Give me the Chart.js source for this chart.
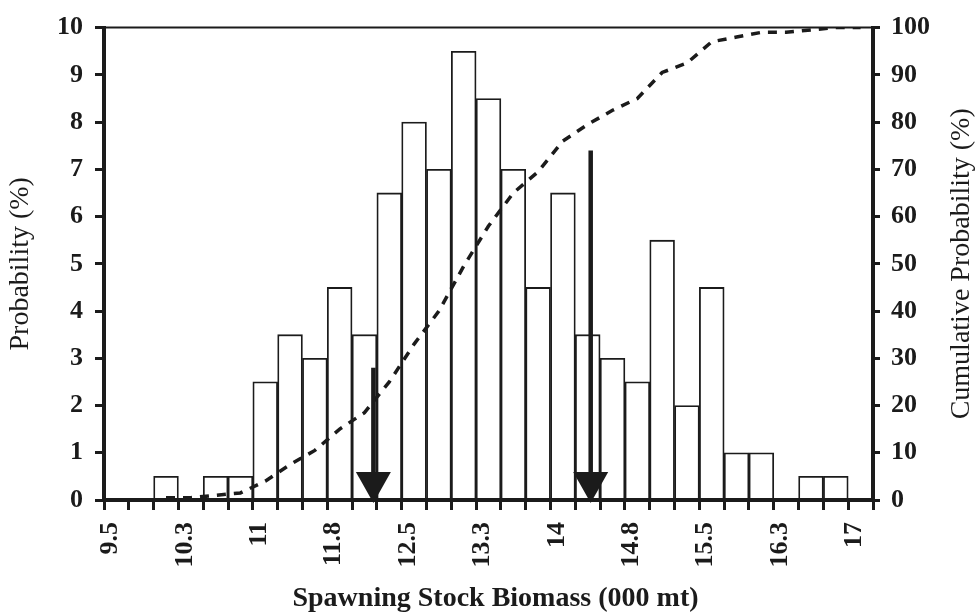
<!DOCTYPE html>
<html>
<head>
<meta charset="utf-8">
<title>Spawning Stock Biomass</title>
<script src="https://cdn.jsdelivr.net/npm/chart.js@4.4.1/dist/chart.umd.min.js"></script>
<style>
  html, body { margin: 0; padding: 0; background: #ffffff; }
  #wrap { width: 980px; height: 615px; position: relative; }
</style>
</head>
<body>
<div id="wrap"><canvas id="c"></canvas></div>
<script>
// Histogram classes of spawning stock biomass (000 mt), 0.25 wide
const categories = [9.5, 9.75, 10, 10.25, 10.5, 10.75, 11, 11.25, 11.5, 11.75,
                    12, 12.25, 12.5, 12.75, 13, 13.25, 13.5, 13.75, 14, 14.25,
                    14.5, 14.75, 15, 15.25, 15.5, 15.75, 16, 16.25, 16.5, 16.75, 17];
// Labels shown under every third class
const tickLabels = ['9.5', '10.3', '11', '11.8', '12.5', '13.3', '14', '14.8', '15.5', '16.3', '17'];
// Probability (%) of each class
const probability = [null, null, 0.5, null, 0.5, 0.5, 2.5, 3.5, 3.0, 4.5,
                     3.5, 6.5, 8.0, 7.0, 9.5, 8.5, 7.0, 4.5, 6.5, 3.5,
                     3.0, 2.5, 5.5, 2.0, 4.5, 1.0, 1.0, null, 0.5, 0.5, null];
// Cumulative probability (%)
const cumulative = [null, null, 0.5, 0.5, 1.0, 1.5, 4.0, 7.5, 10.5, 15.0,
                    18.5, 25.0, 33.0, 40.0, 49.5, 58.0, 65.0, 69.5, 76.0, 79.5,
                    82.5, 85.0, 90.5, 92.5, 97.0, 98.0, 99.0, 99.0, 99.5, 100, 100];
// Marker arrows: biomass position and height of the shaft top (probability %)
const arrowSSB = [12.09, 14.28];
const arrowTop = [2.8, 7.4];

const ink = '#1b1b1b';
const serif = "'Liberation Serif', 'DejaVu Serif', serif";
const classWidth = categories[1] - categories[0];

const decorations = {
  id: 'decorations',
  afterDatasetsDraw(chart) {
    const { ctx, chartArea, scales } = chart;
    ctx.save();
    ctx.strokeStyle = ink;
    // thin frame along the top of the plot
    ctx.lineWidth = 2;
    ctx.beginPath();
    ctx.moveTo(chartArea.left, chartArea.top);
    ctx.lineTo(chartArea.right, chartArea.top);
    ctx.stroke();
    // restate the baseline so the bar fills do not thin it
    const y0 = scales.y.getPixelForValue(0);
    ctx.lineWidth = 4;
    ctx.beginPath();
    ctx.moveTo(chartArea.left - 2, y0);
    ctx.lineTo(chartArea.right + 2, y0);
    ctx.stroke();

    // downward arrows
    ctx.fillStyle = ink;
    arrowSSB.forEach((v, i) => {
      const x = scales.x.getPixelForValue((v - categories[0]) / classWidth);
      const yTop = scales.y.getPixelForValue(arrowTop[i]);
      const yTip = y0 + 3;
      const headH = 31, headW = 35;
      ctx.lineWidth = 4.5;
      ctx.beginPath();
      ctx.moveTo(x, yTop);
      ctx.lineTo(x, yTip - headH + 2);
      ctx.stroke();
      ctx.beginPath();
      ctx.moveTo(x - headW / 2, yTip - headH);
      ctx.lineTo(x + headW / 2, yTip - headH);
      ctx.lineTo(x, yTip);
      ctx.closePath();
      ctx.fill();
    });
    ctx.restore();
  },
  afterDraw(chart) {
    const { ctx, chartArea, scales } = chart;
    ctx.save();
    ctx.fillStyle = ink;
    ctx.textAlign = 'center';
    ctx.textBaseline = 'middle';
    // x-axis title
    ctx.font = 'bold 28px ' + serif;
    ctx.fillText('Spawning Stock Biomass (000 mt)', (chartArea.left + chartArea.right) / 2 + 7, scales.x.bottom - 16);
    // right-axis title, reading bottom to top
    ctx.font = '28px ' + serif;
    ctx.translate(scales.y2.right - 18, (chartArea.top + chartArea.bottom) / 2);
    ctx.rotate(-Math.PI / 2);
    ctx.fillText('Cumulative Probability (%)', 0, 0);
    ctx.restore();
  }
};

new Chart(document.getElementById('c'), {
  type: 'bar',
  data: {
    labels: categories.map(String),
    datasets: [
      {
        type: 'line',
        label: 'Cumulative Probability (%)',
        data: cumulative,
        yAxisID: 'y2',
        borderColor: ink,
        borderWidth: 3.5,
        borderDash: [9, 8],
        pointRadius: 0,
        tension: 0,
        fill: false,
        order: 0
      },
      {
        type: 'bar',
        label: 'Probability (%)',
        data: probability,
        yAxisID: 'y',
        backgroundColor: '#ffffff',
        borderColor: ink,
        borderWidth: (c) => (c.raw ? 1.8 : 0),
        borderSkipped: 'bottom',
        barPercentage: 1,
        categoryPercentage: 1,
        order: 1
      }
    ]
  },
  options: {
    responsive: true,
    maintainAspectRatio: false,
    animation: false,
    devicePixelRatio: 1,
    layout: { padding: { top: 25, left: 0, right: 0, bottom: 0 } },
    plugins: {
      legend: { display: false },
      tooltip: { enabled: false },
      title: { display: false }
    },
    scales: {
      x: {
        type: 'category',
        offset: true,
        afterFit(scale) { scale.height = 115; },
        grid: {
          offset: true,
          drawOnChartArea: false,
          drawTicks: true,
          tickLength: 10,
          tickWidth: 3,
          color: ink
        },
        border: { display: true, color: ink, width: 4 },
        ticks: {
          autoSkip: false,
          minRotation: 90,
          maxRotation: 90,
          padding: 12,
          labelOffset: -6,
          color: ink,
          font: { family: serif, size: 26, weight: 'bold' },
          callback: (value, index) => (index % 3 === 0 ? tickLabels[index / 3] : '')
        }
      },
      y: {
        position: 'left',
        min: 0,
        max: 10,
        afterFit(scale) { scale.width = 104; },
        grid: {
          drawOnChartArea: false,
          tickLength: 9,
          tickWidth: 3,
          color: ink
        },
        border: { display: true, color: ink, width: 4 },
        ticks: {
          stepSize: 1,
          padding: 12,
          color: ink,
          font: { family: serif, size: 26, weight: 'bold' }
        },
        title: {
          display: true,
          text: 'Probability (%)',
          color: ink,
          font: { family: serif, size: 28, weight: 'normal' },
          padding: { top: 4, bottom: 0 }
        }
      },
      y2: {
        position: 'right',
        min: 0,
        max: 100,
        afterFit(scale) { scale.width = 107; },
        grid: {
          drawOnChartArea: false,
          tickLength: 7,
          tickWidth: 3,
          color: ink
        },
        border: { display: true, color: ink, width: 4 },
        ticks: {
          stepSize: 10,
          padding: 11,
          color: ink,
          font: { family: serif, size: 26, weight: 'bold' }
        }
      }
    }
  },
  plugins: [decorations]
});
</script>
</body>
</html>
